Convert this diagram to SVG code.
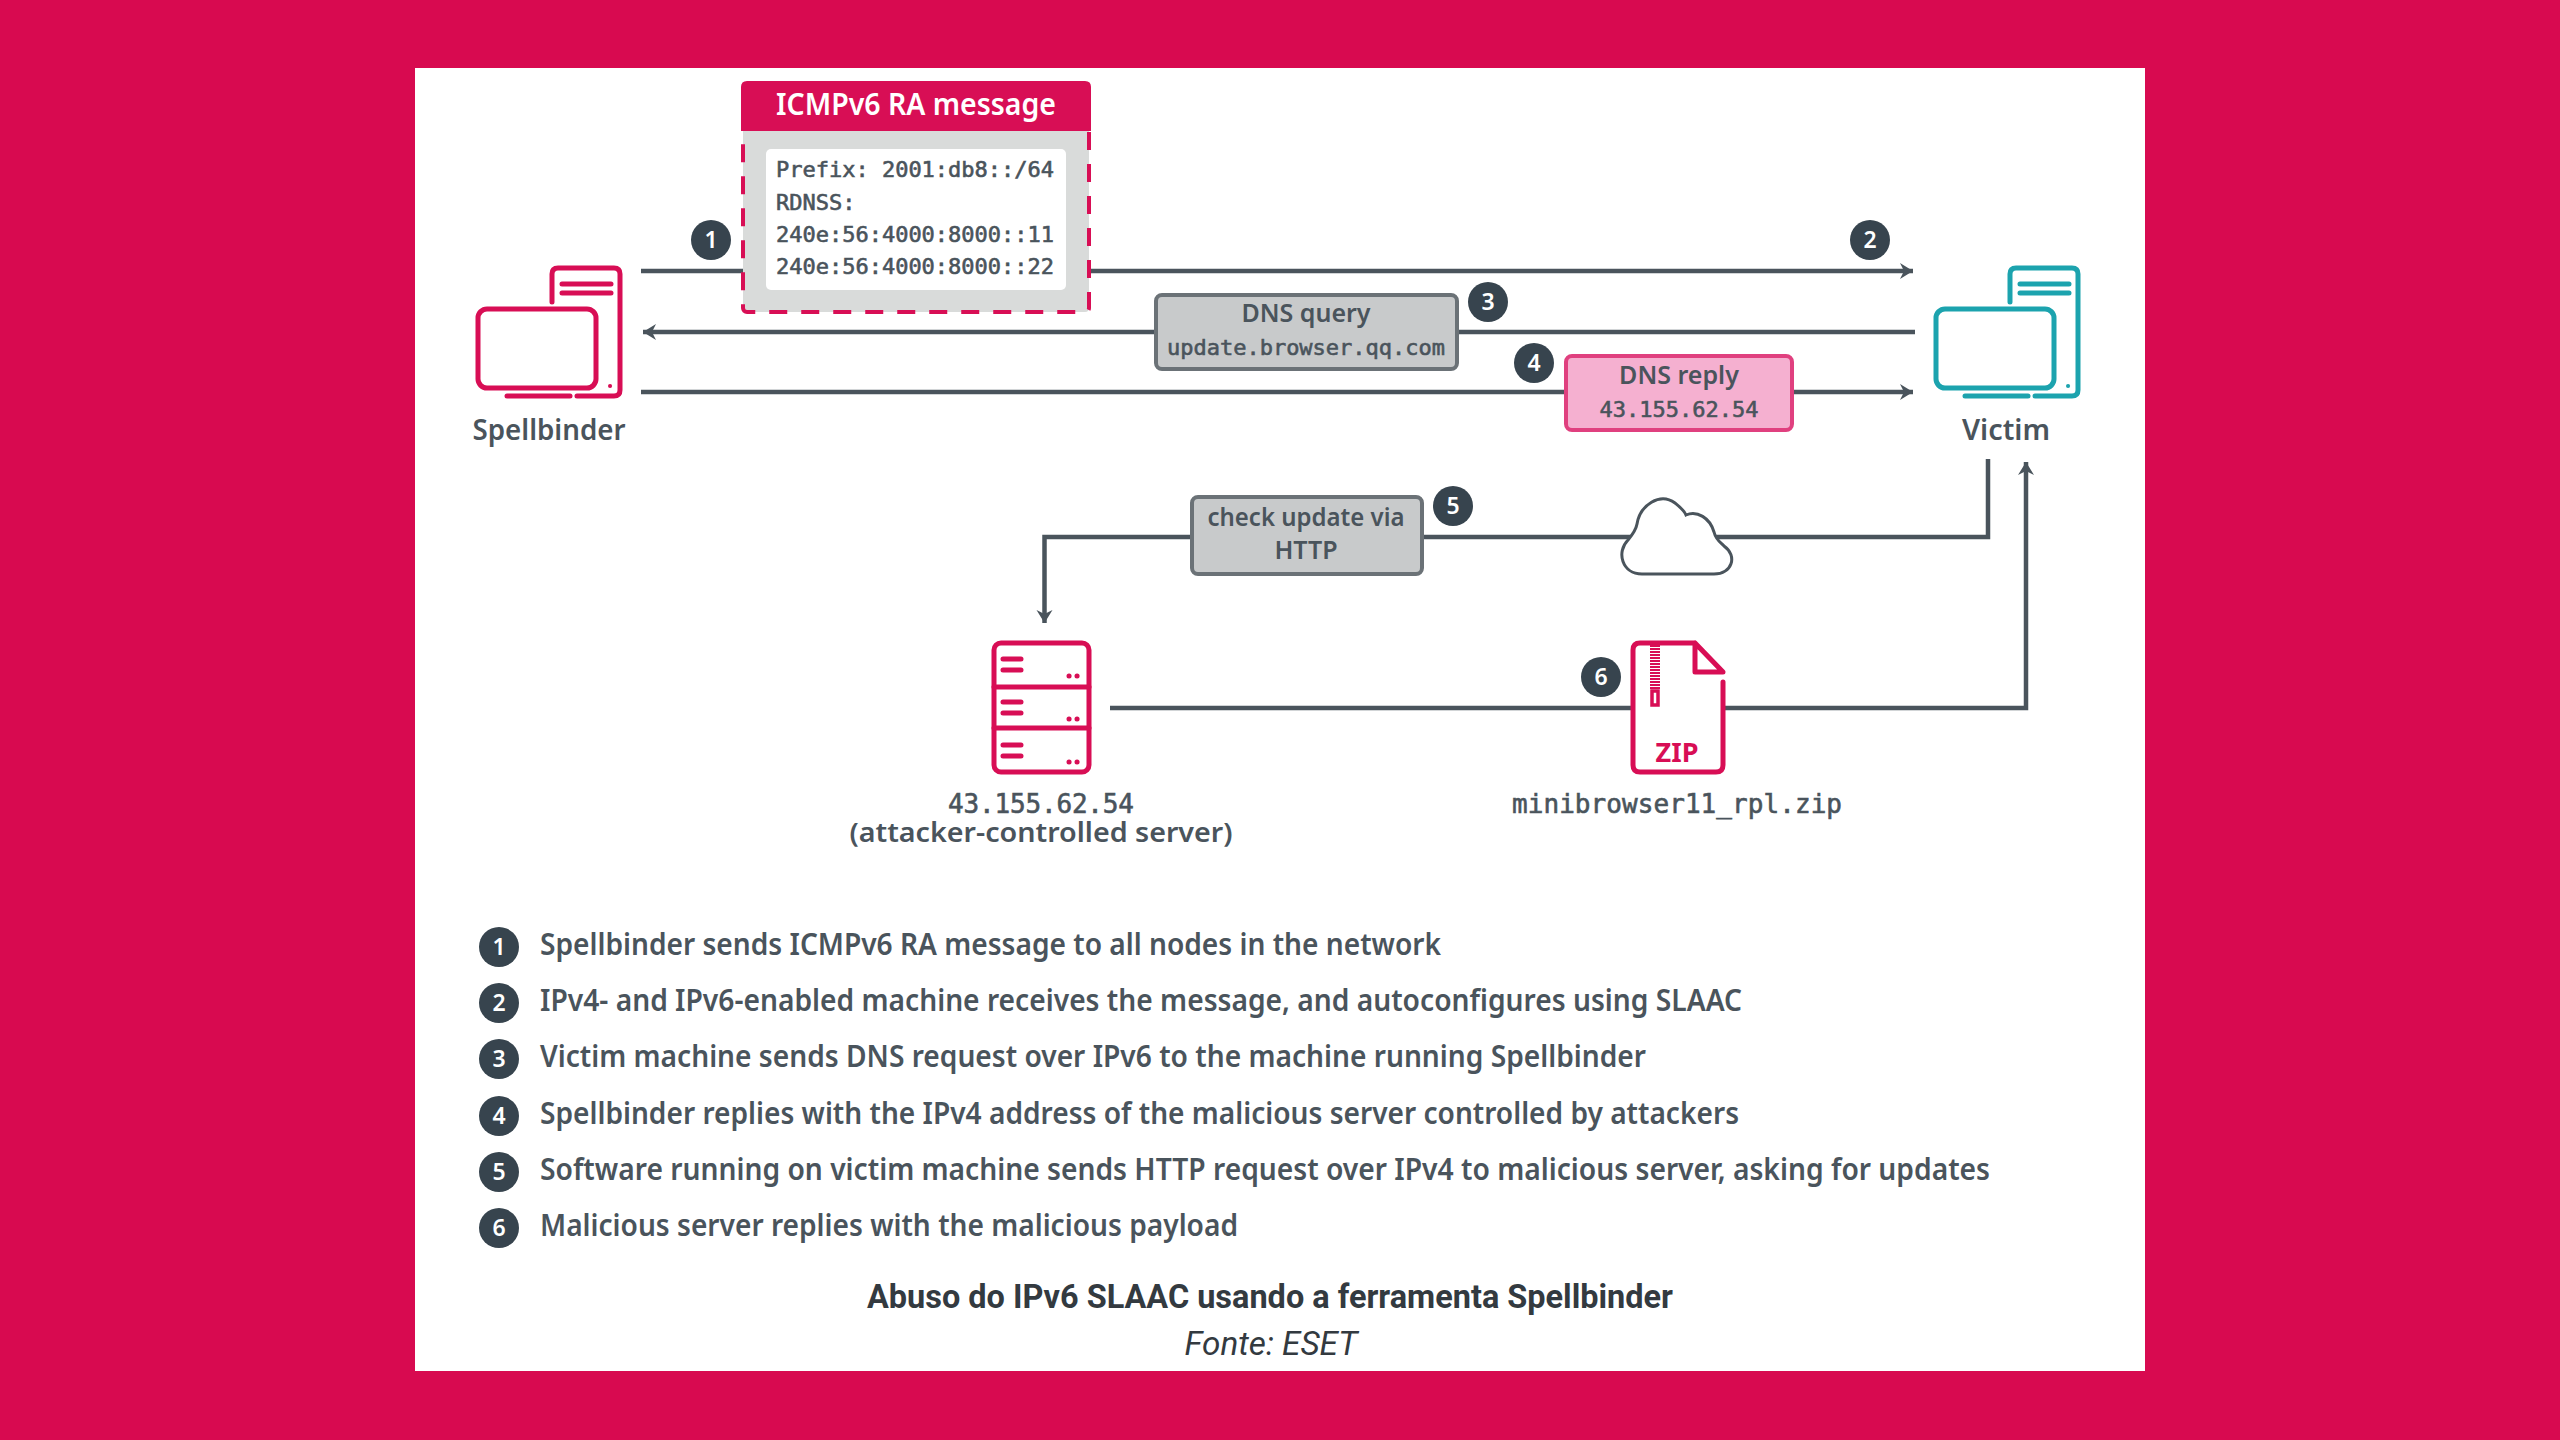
<svg xmlns="http://www.w3.org/2000/svg" width="2560" height="1440" viewBox="0 0 2560 1440">
<style>
text{fill:#4a545c;font-family:"Noto Sans","Open Sans",sans-serif;font-weight:600}
.m{font-family:"DejaVu Sans Mono","Liberation Mono",monospace;font-weight:400;stroke:#4a545c;stroke-width:.6}
.c{text-anchor:middle}
.t{font-size:25px;text-anchor:middle}
.li{font-size:31px}
.n{fill:#fff;font-size:23px;font-weight:600;text-anchor:middle}
.d{fill:#37444e}
.w{fill:none;stroke:#4a545c;stroke-width:4.500}
.p{fill:none;stroke:#d80e55;stroke-width:5;stroke-linecap:round;stroke-linejoin:round}
.v{fill:none;stroke:#1ca3ae;stroke-width:5;stroke-linecap:round;stroke-linejoin:round}
.box{fill:#c8cacb;stroke:#6b7277;stroke-width:4}
.cap{font-family:Roboto,"Liberation Sans",sans-serif;fill:#333a40}
</style>
<defs>
<marker id="a" markerUnits="userSpaceOnUse" markerWidth="16" markerHeight="18" refX="14" refY="9" orient="auto"><path d="M1 1 L14 9 L1 17 L5 9 Z" fill="#4a545c"/></marker>
<symbol id="pc" viewBox="0 0 146 132" width="146" height="132" overflow="visible">
<path d="M76 36 V8 Q76 2 82 2 H138 Q144 2 144 8 V124 Q144 130 138 130 H101"/>
<path d="M86 18 H135 M86 27 H135"/>
<rect x="2" y="43" width="118" height="79" rx="9"/>
<path d="M31 130 H94"/>
<path d="M134 120 h.1" stroke-width="4"/>
</symbol>
</defs>
<rect width="2560" height="1440" fill="#d80a50"/>
<rect x="415" y="68" width="1730" height="1303" fill="#fff"/>

<g id="connectors">
<path class="w" d="M641 271 H1913" marker-end="url(#a)"/>
<path class="w" d="M1915 332 H643" marker-end="url(#a)"/>
<path class="w" d="M641 392 H1913" marker-end="url(#a)"/>
<path class="w" d="M1988 459 V537 H1044.500 V623" marker-end="url(#a)"/>
<path class="w" d="M1110 708 H2026 V462" marker-end="url(#a)"/>
</g>

<g id="spellbinder">
<use href="#pc" x="476" y="266" class="p"/>
<text class="c" x="549" y="440" font-size="29" textLength="153" lengthAdjust="spacingAndGlyphs">Spellbinder</text>
</g>
<g id="victim">
<use href="#pc" x="1934" y="266" class="v"/>
<text class="c" x="2006" y="440" font-size="29" textLength="88" lengthAdjust="spacingAndGlyphs">Victim</text>
</g>

<g id="icmp">
<rect x="743" y="120" width="346" height="192" rx="4" fill="#d9dbda" stroke="#d80e55" stroke-width="4" stroke-dasharray="18 14"/>
<path d="M741 131 V87 Q741 81 747 81 H1085 Q1091 81 1091 87 V131 Z" fill="#d80e55"/>
<rect x="766" y="149" width="300" height="141" rx="5" fill="#fff"/>
<text class="c" x="916" y="115" font-size="30" style="fill:#fff" textLength="280" lengthAdjust="spacingAndGlyphs">ICMPv6 RA message</text>
<text class="m" x="776" y="177" font-size="22" textLength="278" lengthAdjust="spacing">Prefix: 2001:db8::/64</text>
<text class="m" x="776" y="210" font-size="22">RDNSS:</text>
<text class="m" x="776" y="242" font-size="22" textLength="278" lengthAdjust="spacing">240e:56:4000:8000::11</text>
<text class="m" x="776" y="274" font-size="22" textLength="278" lengthAdjust="spacing">240e:56:4000:8000::22</text>
</g>

<g id="dns-query">
<rect class="box" x="1156" y="295" width="301" height="74" rx="6"/>
<text class="t" x="1306" y="322">DNS query</text>
<text class="m c" x="1306" y="355" font-size="22">update.browser.qq.com</text>
</g>
<g id="dns-reply">
<rect x="1566" y="356" width="226" height="74" rx="6" fill="#f5b0d0" stroke="#e0407f" stroke-width="4"/>
<text class="t" x="1679" y="384">DNS reply</text>
<text class="m c" x="1679" y="417" font-size="22">43.155.62.54</text>
</g>
<g id="check-update">
<rect class="box" x="1192" y="497" width="230" height="77" rx="6"/>
<text class="t" x="1306" y="526" textLength="197" lengthAdjust="spacingAndGlyphs">check update via</text>
<text class="t" x="1306" y="559">HTTP</text>
</g>
<g id="cloud">
<path d="M1642 574 C1622 574 1616 552 1628 540 C1633 534 1636 530 1637 524 C1640 505 1660 492 1675 503 C1680 507 1684 510 1686 515 C1697 510 1710 518 1714 532 C1716 540 1720 542 1724 546 C1738 556 1732 574 1714 574 Z" fill="#fff" stroke="#4a545c" stroke-width="3"/>
</g>
<g id="server" class="p">
<rect x="994" y="643" width="95" height="129" rx="7"/>
<path d="M994 687 H1089 M994 728 H1089"/>
<path d="M1003 659 H1021 M1003 670 H1021 M1003 702 H1021 M1003 713 H1021 M1003 745 H1021 M1003 756 H1021"/>
<path d="M1069 676 h.1 M1077 676 h.1 M1069 719 h.1 M1077 719 h.1 M1069 762 h.1 M1077 762 h.1"/>
</g>
<text class="m c" x="1041" y="813" font-size="26" textLength="186" lengthAdjust="spacing">43.155.62.54</text>
<text class="c" x="1041" y="842" font-size="27" textLength="383" lengthAdjust="spacingAndGlyphs">(attacker-controlled server)</text>

<g id="zip-file">
<path d="M1723 672 L1695 643 H1640 Q1633 643 1633 650 V765 Q1633 772 1640 772 H1716 Q1723 772 1723 765 Z" fill="#fff" stroke="none"/>
<path class="p" d="M1723 682 V765 Q1723 772 1716 772 H1640 Q1633 772 1633 765 V650 Q1633 643 1640 643 H1695 V672 H1723 L1695 643"/>
<path d="M1655 645 V690" stroke="#d80e55" stroke-width="10" stroke-dasharray="2 1" fill="none"/>
<rect x="1652" y="691" width="6" height="14" fill="#fff" stroke="#d80e55" stroke-width="3.500"/>
<text class="c" x="1677" y="762" font-size="27" style="fill:#d80e55;font-weight:700">ZIP</text>
</g>
<text class="m c" x="1677" y="813" font-size="26" textLength="330" lengthAdjust="spacing">minibrowser11_rpl.zip</text>

<g id="badges">
<circle class="d" cx="711" cy="240" r="20"/><text class="n" x="711" y="248">1</text>
<circle class="d" cx="1870" cy="240" r="20"/><text class="n" x="1870" y="248">2</text>
<circle class="d" cx="1488" cy="302" r="20"/><text class="n" x="1488" y="310">3</text>
<circle class="d" cx="1534" cy="363" r="20"/><text class="n" x="1534" y="371">4</text>
<circle class="d" cx="1453" cy="506" r="20"/><text class="n" x="1453" y="514">5</text>
<circle class="d" cx="1601" cy="677" r="20"/><text class="n" x="1601" y="685">6</text>
</g>

<g id="legend">
<circle class="d" cx="499" cy="947" r="20"/><text class="n" x="499" y="955">1</text>
<circle class="d" cx="499" cy="1003" r="20"/><text class="n" x="499" y="1011">2</text>
<circle class="d" cx="499" cy="1059" r="20"/><text class="n" x="499" y="1067">3</text>
<circle class="d" cx="499" cy="1116" r="20"/><text class="n" x="499" y="1124">4</text>
<circle class="d" cx="499" cy="1172" r="20"/><text class="n" x="499" y="1180">5</text>
<circle class="d" cx="499" cy="1228" r="20"/><text class="n" x="499" y="1236">6</text>
<text class="li" x="540" y="955" textLength="901" lengthAdjust="spacingAndGlyphs">Spellbinder sends ICMPv6 RA message to all nodes in the network</text>
<text class="li" x="540" y="1011" textLength="1202" lengthAdjust="spacingAndGlyphs">IPv4- and IPv6-enabled machine receives the message, and autoconfigures using SLAAC</text>
<text class="li" x="540" y="1067" textLength="1106" lengthAdjust="spacingAndGlyphs">Victim machine sends DNS request over IPv6 to the machine running Spellbinder</text>
<text class="li" x="540" y="1124" textLength="1199" lengthAdjust="spacingAndGlyphs">Spellbinder replies with the IPv4 address of the malicious server controlled by attackers</text>
<text class="li" x="540" y="1180" textLength="1450" lengthAdjust="spacingAndGlyphs">Software running on victim machine sends HTTP request over IPv4 to malicious server, asking for updates</text>
<text class="li" x="540" y="1236" textLength="698" lengthAdjust="spacingAndGlyphs">Malicious server replies with the malicious payload</text>
</g>

<text class="cap c" x="1270" y="1308" font-size="33" style="font-weight:700" textLength="806" lengthAdjust="spacingAndGlyphs">Abuso do IPv6 SLAAC usando a ferramenta Spellbinder</text>
<text class="cap c" x="1271" y="1355" font-size="33" style="font-weight:400;font-style:italic" textLength="173" lengthAdjust="spacingAndGlyphs">Fonte: ESET</text>
</svg>
